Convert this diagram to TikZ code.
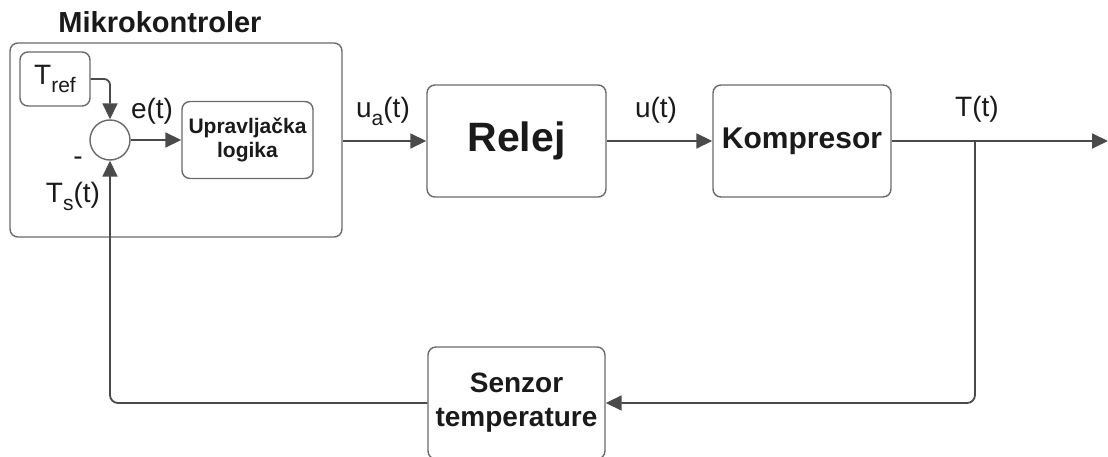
\documentclass[tikz,border=0pt]{standalone}
\usepackage{fontspec}
\setmainfont{Liberation Sans}
\usetikzlibrary{arrows.meta}
\definecolor{ln}{HTML}{4A4A4A}
\definecolor{bx}{HTML}{6A6A6A}
\definecolor{tx}{HTML}{1A1A1A}
\newcommand{\fs}[1]{\fontsize{#1}{#1}\selectfont}
\newcommand{\lowsub}[2]{\raisebox{-#2pt}{\fs{21}#1}}
\begin{document}
\begin{tikzpicture}[x=1pt,y=-1pt,
  blk/.style={draw=bx, line width=1.4pt, rounded corners=8pt, fill=white,
    inner sep=0pt, text=tx, align=center},
  wire/.style={draw=ln, line width=1.8pt},
  arr/.style={wire, -{Triangle[length=16pt,width=15pt]}},
  lbl/.style={text=tx, inner sep=0pt, font=\fs{28}}]
\useasboundingbox (0,0) rectangle (1108,457);
\clip (0,0) rectangle (1108,457);

% blocks
\node[blk, minimum width=332pt, minimum height=194pt] (outer) at (176,140) {};
\node[text=tx, inner sep=0pt, font=\fs{29}\bfseries] (title) at (160,22) {Mikrokontroler};
\node[blk, minimum width=70pt, minimum height=54pt, font=\fs{28}] (tref) at (55,79) {T\lowsub{ref}{8}};
\node[draw=bx, line width=1.4pt, circle, fill=white, minimum size=40pt, inner sep=0pt] (sum) at (110,140) {};
\node[blk, minimum width=131pt, minimum height=77pt, font=\fs{21}\bfseries, align=center] (logic) at (247.5,140) {Upravljačka\\[3pt]logika};
\node[blk, minimum width=179pt, minimum height=112pt, font=\fs{41}\bfseries] (relej) at (516.5,141) {Relej};
\node[blk, minimum width=178pt, minimum height=112pt, font=\fs{30}\bfseries] (komp) at (802,141) {Kompresor};
\node[blk, minimum width=177pt, minimum height=112pt, font=\fs{28}\bfseries, align=center] (senz) at (516.5,403) {Senzor\\[6pt]temperature};

% coordinates
\coordinate (br) at (975,141);
\coordinate (out) at (1108,141);

% connectors
\draw[arr, rounded corners=6pt] (tref.east) -| (sum.north);
\draw[arr] (sum.east) -- (logic.west);
\draw[arr] (outer.east |- relej.west) -- (relej.west);
\draw[arr] (relej.east) -- (komp.west);
\draw[arr] (komp.east) -- (out);
\draw[arr, rounded corners=8pt] (br) |- (senz.east);
\draw[arr, rounded corners=8pt] (senz.west) -| (sum.south);

% labels
\node[lbl] (le) at (152,111) {e(t)};
\node[lbl] (lminus) at (78,161) {-};
\node[lbl] (lts) at (73,196) {T\lowsub{s}{8}(t)};
\node[lbl] (lua) at (383,111) {u\lowsub{a}{8}(t)};
\node[lbl] (lu) at (656,110) {u(t)};
\node[lbl] (lT) at (977,109) {T(t)};
\end{tikzpicture}
\end{document}
